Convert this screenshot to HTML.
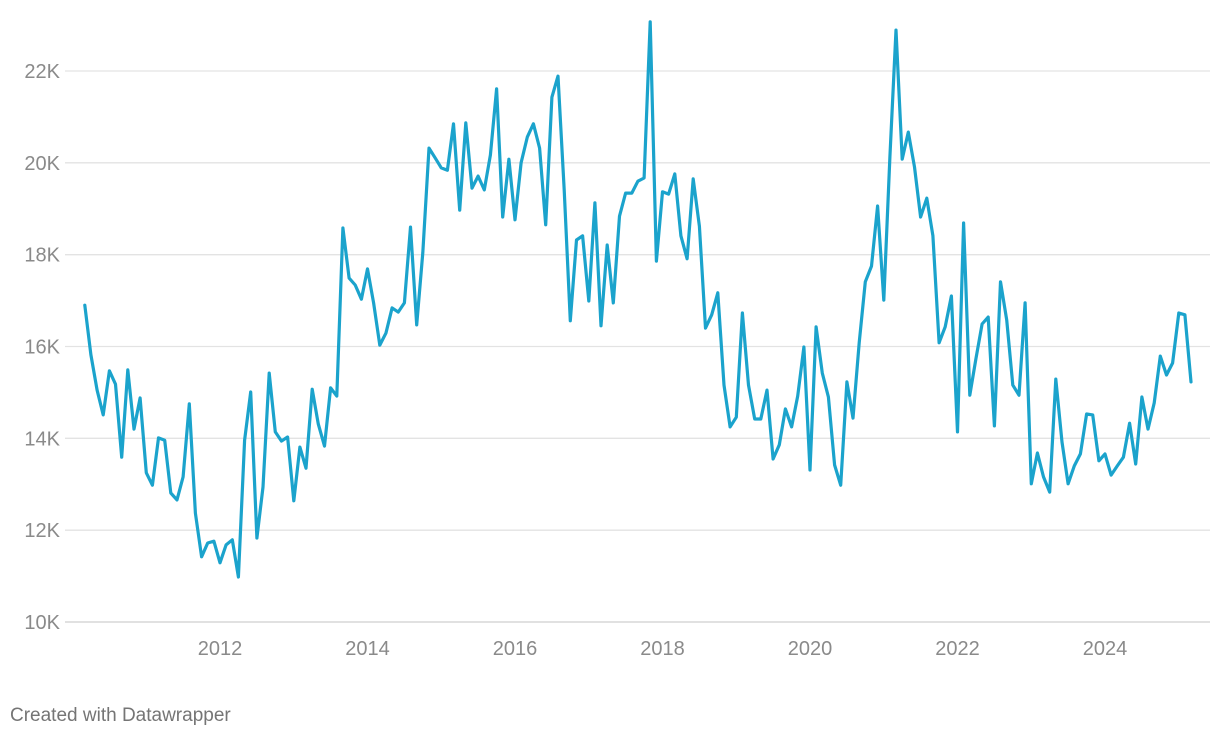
<!DOCTYPE html>
<html><head><meta charset="utf-8"><style>
body{margin:0;background:#fff;width:1220px;height:738px;overflow:hidden;font-family:"Liberation Sans",sans-serif}
svg text{font-family:"Liberation Sans",sans-serif}
</style></head><body>
<svg id="chart" width="1220" height="738" xmlns="http://www.w3.org/2000/svg">
<g id="grid"></g>
<g id="xaxis"></g>
<path id="line" fill="none" stroke="#1ba3cc" stroke-width="3.2" stroke-linejoin="round" stroke-linecap="round"></path>
<text x="10" y="721" font-size="19" fill="#757575">Created with Datawrapper</text>
</svg>
<script>
const startYear = 2010;
const startMonth = 2; // March (0-based)
const values = [16900,15820,15050,14510,15470,15180,13590,15490,14200,14880,13250,12980,14010,13960,12810,12660,13160,14750,12370,11420,11720,11760,11290,11680,11790,10980,13960,15010,11830,12940,15420,14140,13940,14030,12640,13810,13350,15070,14310,13830,15100,14920,18580,17490,17340,17030,17690,16950,16030,16290,16840,16750,16950,18600,16470,18040,20320,20110,19890,19840,20850,18970,20870,19450,19710,19410,20170,21610,18820,20080,18760,20000,20560,20850,20320,18650,21430,21890,19410,16560,18320,18410,16990,19130,16450,18210,16950,18840,19340,19340,19600,19670,23070,17860,19370,19320,19760,18410,17910,19650,18620,16400,16690,17170,15160,14250,14460,16730,15160,14420,14420,15050,13550,13860,14640,14250,14920,15990,13310,16430,15420,14900,13420,12980,15230,14440,16080,17410,17750,19060,17010,20130,22890,20080,20670,19910,18820,19230,18410,16080,16430,17100,14140,18690,14940,15730,16490,16640,14270,17410,16580,15160,14940,16950,13010,13680,13160,12830,15290,13920,13010,13400,13660,14530,14510,13510,13660,13200,13400,13590,14330,13440,14900,14200,14770,15790,15380,15640,16730,16690,15230];
const yTicks = [10000,12000,14000,16000,18000,20000,22000];
const yTickLabels = ["10K","12K","14K","16K","18K","20K","22K"];
const xTicks = [2012,2014,2016,2018,2020,2022,2024];
const xTickLabels = ["2012","2014","2016","2018","2020","2022","2024"];

const ns = "http://www.w3.org/2000/svg";
function y(v){ return 622 - (v - 10000) * (551 / 12000); }
function x(yr){ return 220 + (yr - 2012) * 73.75; }

const grid = document.getElementById('grid');
yTicks.forEach((t,i)=>{
  const l = document.createElementNS(ns,'line');
  
  
  l.setAttribute('x1',65); l.setAttribute('x2',1210);
  l.setAttribute('y1',y(t)); l.setAttribute('y2',y(t));
  l.setAttribute('stroke', i===0 ? '#cfcfcf' : '#e3e3e3'); l.setAttribute('stroke-width',1.3);
  grid.appendChild(l);
  const tx = document.createElementNS(ns,'text');
  
  
  tx.setAttribute('x',60); tx.setAttribute('y',y(t)+7);
  tx.setAttribute('text-anchor','end'); tx.setAttribute('font-size','20'); tx.setAttribute('fill','#8a8a8a');
  tx.textContent = yTickLabels[i];
  grid.appendChild(tx);
});
const xa = document.getElementById('xaxis');
xTicks.forEach((t,i)=>{
  const tx = document.createElementNS(ns,'text');
  
  
  tx.setAttribute('x',x(t)); tx.setAttribute('y',655);
  tx.setAttribute('text-anchor','middle'); tx.setAttribute('font-size','20'); tx.setAttribute('fill','#8a8a8a');
  tx.textContent = xTickLabels[i];
  xa.appendChild(tx);
});
let d = '';
values.forEach((v,i)=>{
  const yr = startYear + (startMonth + i) / 12;
  d += (i ? 'L' : 'M') + x(yr).toFixed(1) + ',' + y(v).toFixed(1);
});
document.getElementById('line').setAttribute('d', d);
</script>
</body></html>
